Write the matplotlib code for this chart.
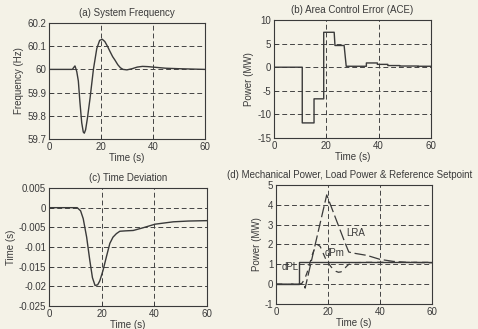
import numpy as np
import matplotlib
matplotlib.use('Agg')
import matplotlib.pyplot as plt

plt.rcParams['font.family'] = ['Liberation Sans', 'DejaVu Sans']
plt.rcParams['font.size'] = 7

# (a) system frequency
t_freq = [0, 9, 9.5, 10, 10.3, 10.7, 11.3, 11.9, 12.6, 13.2, 13.6, 14.1, 14.8,
          15.8, 17.1, 18.4, 19.5, 20.5, 21.5, 22.5, 23.5, 24.5, 25.4, 26.5,
          27.5, 28.5, 30, 32, 34, 36, 38, 40, 45, 50, 60]
freq = [60, 60, 60.008, 60.015, 60.005, 59.99, 59.95, 59.86, 59.77, 59.73,
        59.725, 59.74, 59.79, 59.875, 60.0, 60.09, 60.125, 60.13, 60.12,
        60.10, 60.077, 60.055, 60.04, 60.02, 60.007, 60.0, 59.998, 60.003,
        60.01, 60.013, 60.012, 60.01, 60.005, 60.003, 60.0]

# (b) area control error, sampled (step-wise)
t_ace = [0, 10.8, 10.8, 15.3, 15.3, 19.0, 19.0, 23.0, 23.3, 26.8, 27.6, 35.3,
         35.3, 39.5, 39.5, 43.5, 43.5, 48, 48, 55, 55, 60]
ace = [0, 0, -11.8, -11.8, -6.7, -6.7, 7.4, 7.4, 4.6, 4.6, 0.2, 0.2,
       0.9, 0.9, 0.6, 0.6, 0.35, 0.35, 0.25, 0.25, 0.2, 0.2]

# (c) time deviation
t_dev = [0, 10.7, 12, 13, 14.3, 15.5, 16.5, 17.5, 18.5, 19.3, 20.5, 21.8,
         23.1, 24.3, 25.6, 26.9, 29, 32, 35.8, 40.3, 47.2, 53, 60]
tdev = [0, 0, -0.0008, -0.0028, -0.0075, -0.0134, -0.0178, -0.0198,
        -0.0196, -0.0186, -0.016, -0.0125, -0.0091, -0.0075, -0.0066,
        -0.006, -0.0059, -0.0058, -0.0051, -0.0042, -0.0036, -0.0034, -0.0033]

# (d) load step, mechanical power and load reference adjustment
t_pl = [0, 9, 9, 60]
dpl = [0, 0, 1.1, 1.1]

t_pm = [0, 9.3, 10, 11, 12, 13, 14, 15, 16, 17, 18, 19, 20, 21, 22, 23, 24,
        25, 26, 27, 28, 30, 35, 60]
dpm = [0, 0, 0.05, 0.25, 0.6, 1.05, 1.5, 1.85, 2.0, 1.9, 1.6, 1.3, 1.1,
       0.9, 0.75, 0.65, 0.6, 0.62, 0.72, 0.88, 1.0, 1.08, 1.1, 1.1]

t_lra = [0, 10.8, 11.2, 19.5, 26.5, 28, 30, 35, 40, 45, 50, 60]
lra = [0, 0, -0.2, 4.5, 2.1, 1.62, 1.56, 1.45, 1.25, 1.15, 1.1, 1.08]

bg = '#f4f2e7'
ink = '#3a3a3a'
fig = plt.figure(figsize=(4.78, 3.29), dpi=100, facecolor=bg)

ax_a = fig.add_axes([0.1025, 0.5775, 0.326, 0.3526])
ax_b = fig.add_axes([0.5732, 0.5805, 0.3285, 0.3587])
ax_c = fig.add_axes([0.1025, 0.0699, 0.3305, 0.3587])
ax_d = fig.add_axes([0.5774, 0.0760, 0.3264, 0.3617])


def style(ax, yticks, ylabels, title, ylabel):
    ax.set_facecolor(bg)
    ax.set_xlim(0, 60)
    ax.set_xticks([0, 20, 40, 60])
    ax.set_ylim(yticks[0], yticks[-1])
    ax.set_yticks(yticks)
    ax.set_yticklabels(ylabels)
    ax.tick_params(direction='in', length=3, width=0.6, colors=ink, pad=2,
                   labelsize=7)
    for s in ax.spines.values():
        s.set_color(ink)
        s.set_linewidth(0.8)
    ax.grid(True, color='#444444', linestyle=(0, (5, 3)), linewidth=0.7)
    ax.set_title(title, fontsize=7, color=ink, pad=5)
    ax.set_xlabel('Time (s)', fontsize=7, color=ink, labelpad=1)
    ax.set_ylabel(ylabel, fontsize=7, color=ink, labelpad=2)


style(ax_a, [59.7, 59.8, 59.9, 60.0, 60.1, 60.2],
      ['59.7', '59.8', '59.9', '60', '60.1', '60.2'],
      '(a) System Frequency', 'Frequency (Hz)')
ax_a.plot(t_freq, freq, color=ink, linewidth=1.0)

style(ax_b, [-15, -10, -5, 0, 5, 10],
      ['-15', '-10', '-5', '0', '5', '10'],
      '(b) Area Control Error (ACE)', 'Power (MW)')
ax_b.plot(t_ace, ace, color=ink, linewidth=1.0)

style(ax_c, [-0.025, -0.02, -0.015, -0.01, -0.005, 0, 0.005],
      ['-0.025', '-0.02', '-0.015', '-0.01', '-0.005', '0', '0.005'],
      '(c) Time Deviation', 'Time (s)')
ax_c.plot(t_dev, tdev, color=ink, linewidth=1.0)

style(ax_d, [-1, 0, 1, 2, 3, 4, 5],
      ['-1', '0', '1', '2', '3', '4', '5'],
      '(d) Mechanical Power, Load Power & Reference Setpoint', 'Power (MW)')
ax_d.title.set_x(0.47)
ax_d.plot(t_pl, dpl, color=ink, linewidth=1.0)
ax_d.plot(t_pm, dpm, color=ink, linewidth=0.9, linestyle=(0, (5, 4)))
ax_d.plot(t_lra, lra, color=ink, linewidth=0.9, linestyle=(0, (9, 3)))
ax_d.text(30.5, 2.6, 'LRA', fontsize=7, color=ink, ha='center', va='center')
ax_d.text(22.4, 1.55, 'dPm', fontsize=7, color=ink, ha='center', va='center')
ax_d.text(5.4, 0.85, 'dPL', fontsize=7, color=ink, ha='center', va='center')

fig.savefig('out.png', dpi=100, facecolor=bg)
